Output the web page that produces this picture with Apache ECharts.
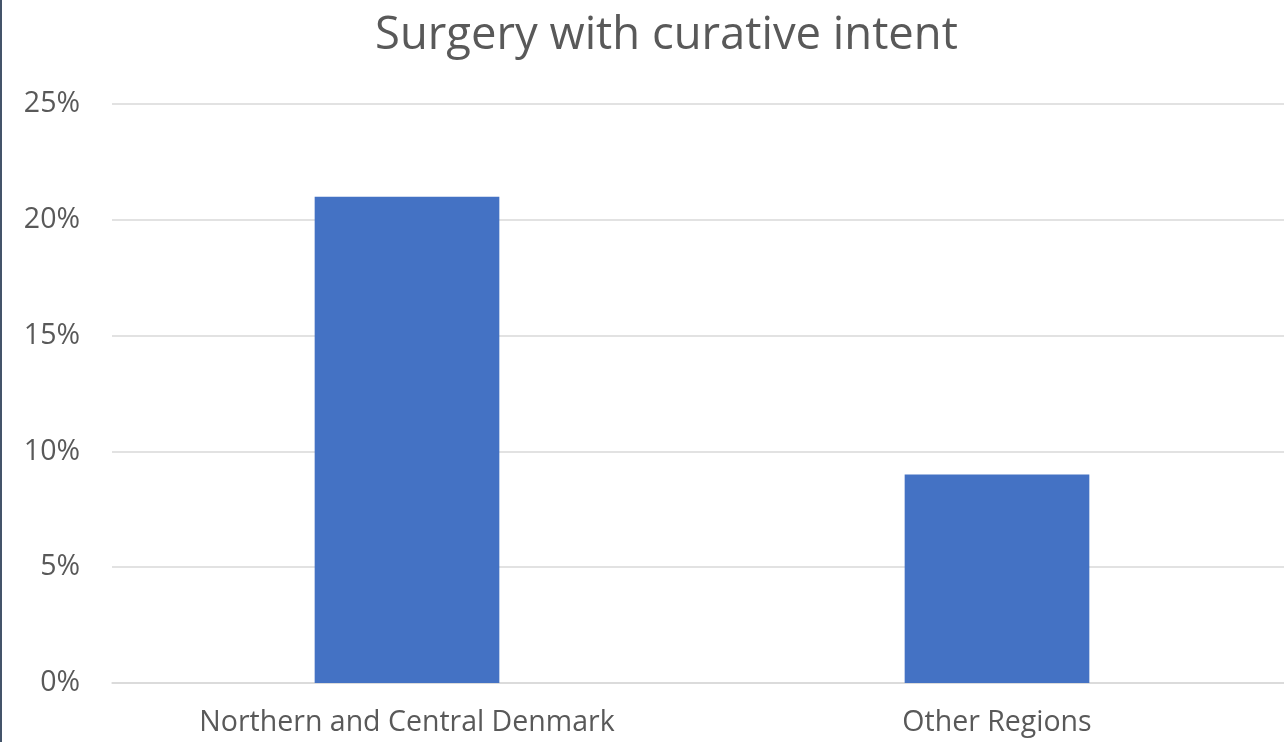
<!DOCTYPE html>
<html>
<head>
<meta charset="utf-8">
<script src="https://cdn.jsdelivr.net/npm/echarts@6/dist/echarts.min.js"></script>
<style>
html,body{margin:0;padding:0;background:#fff;overflow:hidden;}
#chart{width:1284px;height:742px;position:relative;}
#edge{position:absolute;left:0;top:0;width:2px;height:742px;background:#44546A;z-index:10;}
</style>
</head>
<body>
<div id="edge"></div>
<div id="chart"></div>
<script>
const categories = ["Northern and Central Denmark", "Other Regions"];
const values = [21, 9];
const titleText = "Surgery with curative intent";

const chart = echarts.init(document.getElementById('chart'), null, {renderer: 'canvas'});
chart.setOption({
  animation: false,
  title: {
    text: titleText,
    left: 370,
    top: 9,
    textStyle: {fontFamily: 'Open Sans', fontSize: 45.4, fontWeight: 'normal', color: '#595959'}
  },
  grid: {left: 112, width: 1180, top: 104, bottom: 59, containLabel: false, outerBoundsMode: 'none'},
  xAxis: {
    type: 'category',
    data: categories,
    axisLine: {lineStyle: {color: '#d9d9d9', width: 1.5}},
    axisTick: {show: false},
    axisLabel: {fontFamily: 'Open Sans', fontSize: 28.5, color: '#595959', margin: 25}
  },
  yAxis: {
    type: 'value',
    min: 0, max: 25, interval: 5,
    axisLine: {show: false},
    axisTick: {show: false},
    splitLine: {lineStyle: {color: '#d9d9d9', width: 1.5}},
    axisLabel: {fontFamily: 'Open Sans', fontSize: 28.5, color: '#595959', margin: 32, formatter: '{value}%'}
  },
  series: [{
    type: 'bar',
    data: values,
    barWidth: '31.3%',
    itemStyle: {color: '#4472C4'}
  }]
});
</script>
</body>
</html>
